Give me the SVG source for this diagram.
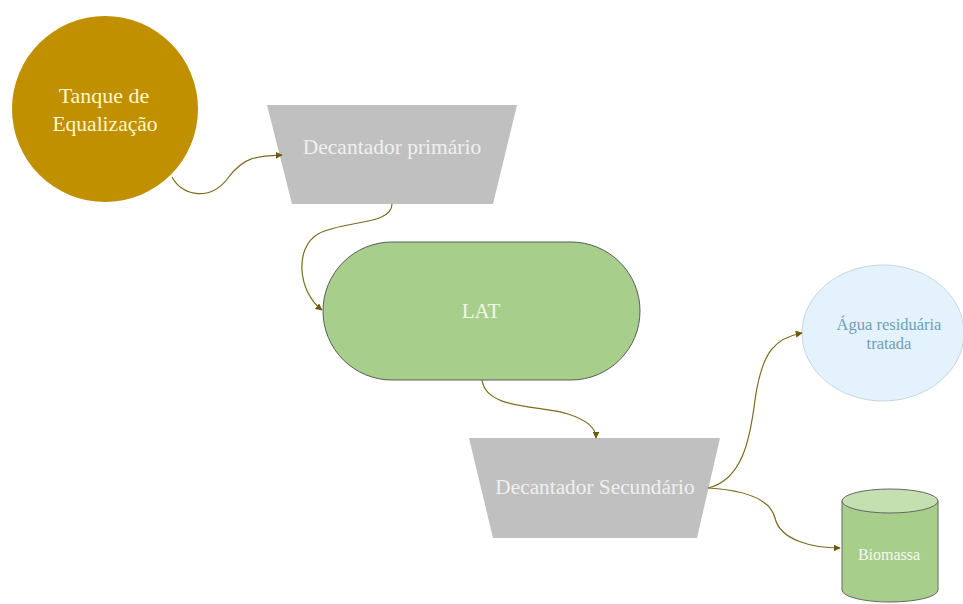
<svg xmlns="http://www.w3.org/2000/svg" width="963" height="604" viewBox="0 0 963 604">
<style>
.t{font-family:"Liberation Serif","Times New Roman",serif;text-anchor:middle}
.conn{fill:none;stroke:#7d6a1e;stroke-width:1.2}
.trap{fill:#c0c0c0}
</style>
<defs>
<marker id="ah" viewBox="0 0 10 10" refX="9" refY="5" markerWidth="7" markerHeight="7" orient="auto" markerUnits="userSpaceOnUse">
<path d="M0,0 L10,5 L0,10 z" fill="#6e5a08"/>
</marker>
</defs>
<rect width="963" height="604" fill="#ffffff"/>
<g id="tanque">
<circle cx="105" cy="109" r="93" fill="#c09000"/>
<text class="t" x="104" y="103" font-size="22" fill="#fff6c8">Tanque de</text>
<text class="t" x="105" y="131" font-size="21.5" fill="#fff6c8">Equalização</text>
</g>
<g id="decantador-primario">
<polygon class="trap" points="267,105 517,105 493,204 292,204"/>
<text class="t" x="392" y="154" font-size="21.5" fill="#f0f0f0">Decantador primário</text>
</g>
<g id="lat">
<rect x="323" y="242" width="317" height="138" rx="69" ry="69" fill="#a7cf8b" stroke="#5a5a5a" stroke-width="1"/>
<text class="t" x="481" y="318" font-size="21" fill="#f0f8e8">LAT</text>
</g>
<g id="decantador-secundario">
<polygon class="trap" points="469,438 720,438 697,538 493,538"/>
<text class="t" x="595" y="494" font-size="21.3" fill="#f0f0f0">Decantador Secundário</text>
</g>
<g id="agua">
<ellipse cx="883" cy="333" rx="81" ry="68" fill="#e3f2fc" stroke="#c6d6de" stroke-width="1"/>
<text class="t" x="889" y="330" font-size="16.5" fill="#6f9fb6">Água residuária</text>
<text class="t" x="889" y="349" font-size="16.5" fill="#6f9fb6">tratada</text>
</g>
<g id="biomassa">
<path d="M842,501 L842,590 A48,12 0 0 0 938,590 L938,501 Z" fill="#a7cf8b" stroke="#666666" stroke-width="1"/>
<ellipse cx="890" cy="501" rx="48" ry="12" fill="#c4e0b0" stroke="#666666" stroke-width="1"/>
<text class="t" x="889" y="560" font-size="16" fill="#f4faee">Biomassa</text>
</g>
<g id="connectors">
<path class="conn" marker-end="url(#ah)" d="M172,177 C183,198 212,200 228,178 C244,156 258,156 282,155"/>
<path class="conn" marker-end="url(#ah)" d="M392,204 C392,226 342,220 318,234 C294,248 298,292 322,310"/>
<path class="conn" marker-end="url(#ah)" d="M482,380 C486,410 540,405 568,414 C590,421 596,430 596,438"/>
<path class="conn" marker-end="url(#ah)" d="M708,488 C742,480 750,440 755,400 C762,350 776,338 802,333"/>
<path class="conn" marker-end="url(#ah)" d="M708,488 C742,490 770,498 775,518 C780,540 812,548 840,548"/>
</g>
</svg>
